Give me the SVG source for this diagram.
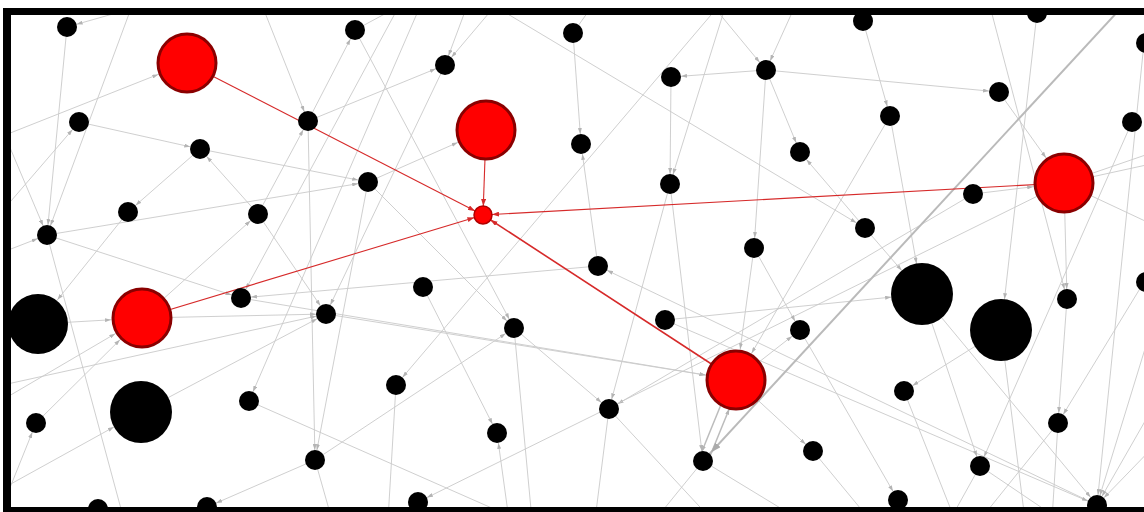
<svg xmlns="http://www.w3.org/2000/svg" width="1144" height="512" viewBox="0 0 1144 512">
<style>
.e{stroke:#c9c9c9;stroke-width:0.9;fill:none}
.s{marker-end:url(#a)}
.b{marker-end:url(#ab)}
.t{stroke:#bababa;stroke-width:2;fill:none;marker-end:url(#at)}
.m{stroke:#bcbcbc;stroke-width:1.5;fill:none}
.r{stroke:#d62a2a;stroke-width:1.1;fill:none;marker-end:url(#ar)}
.n{fill:#000}
.rn{fill:#ff0000;stroke:#8a0000;stroke-width:3}
</style>
<defs>
<marker id="a" viewBox="0 0 6 4" refX="16" refY="2" markerWidth="6" markerHeight="4" markerUnits="userSpaceOnUse" orient="auto"><path d="M0,0L6,2L0,4z" fill="#b4b4b4"/></marker>
<marker id="ab" viewBox="0 0 6 4" refX="37" refY="2" markerWidth="6" markerHeight="4" markerUnits="userSpaceOnUse" orient="auto"><path d="M0,0L6,2L0,4z" fill="#b4b4b4"/></marker>
<marker id="at" viewBox="0 0 10 7" refX="22" refY="3.5" markerWidth="10" markerHeight="7" markerUnits="userSpaceOnUse" orient="auto"><path d="M0,0L10,3.5L0,7z" fill="#aaaaaa"/></marker>
<marker id="ar" viewBox="0 0 7 5" refX="16" refY="2.5" markerWidth="7" markerHeight="5" markerUnits="userSpaceOnUse" orient="auto"><path d="M0,0L7,2.5L0,5z" fill="#d62a2a"/></marker>
<clipPath id="clip"><rect x="11" y="15" width="1133" height="492"/></clipPath>
</defs>
<rect x="0" y="0" width="1144" height="512" fill="#fff"/>
<g clip-path="url(#clip)">
<g id="connectors">
<line class="e s" x1="250" y1="-25" x2="67" y2="27"/>
<line class="e s" x1="67" y1="27" x2="47" y2="235"/>
<line class="e s" x1="136" y1="-5" x2="47" y2="235"/>
<line class="e b" x1="-20" y1="145" x2="187" y2="63"/>
<line class="e s" x1="-20" y1="237" x2="79" y2="122"/>
<line class="e s" x1="0" y1="124" x2="47" y2="235"/>
<line class="e s" x1="-20" y1="261" x2="47" y2="235"/>
<line class="e s" x1="79" y1="122" x2="200" y2="149"/>
<line class="e s" x1="200" y1="149" x2="368" y2="182"/>
<line class="e s" x1="200" y1="149" x2="128" y2="212"/>
<line class="e s" x1="258" y1="214" x2="200" y2="149"/>
<line class="e s" x1="47" y1="235" x2="368" y2="182"/>
<line class="e b" x1="128" y1="212" x2="38" y2="324"/>
<line class="e s" x1="142" y1="318" x2="258" y2="214"/>
<line class="e s" x1="258" y1="214" x2="326" y2="314"/>
<line class="e s" x1="258" y1="214" x2="308" y2="121"/>
<line class="e s" x1="308" y1="121" x2="315" y2="460"/>
<line class="e s" x1="308" y1="121" x2="445" y2="65"/>
<line class="e s" x1="256" y1="-10" x2="308" y2="121"/>
<line class="e s" x1="308" y1="121" x2="355" y2="30"/>
<line class="e" x1="355" y1="30" x2="420" y2="-5"/>
<line class="e s" x1="355" y1="30" x2="514" y2="328"/>
<line class="e b" x1="368" y1="182" x2="486" y2="130"/>
<line class="e s" x1="405" y1="-5" x2="241" y2="298"/>
<line class="e s" x1="425" y1="-5" x2="249" y2="401"/>
<line class="e s" x1="470" y1="-2" x2="445" y2="65"/>
<line class="e s" x1="500" y1="0" x2="445" y2="65"/>
<line class="e s" x1="445" y1="65" x2="326" y2="314"/>
<line class="e s" x1="476" y1="-5" x2="865" y2="228"/>
<line class="e s" x1="573" y1="33" x2="581" y2="144"/>
<line class="e" x1="573" y1="33" x2="600" y2="-5"/>
<line class="e s" x1="598" y1="266" x2="581" y2="144"/>
<line class="e s" x1="728" y1="-5" x2="396" y2="385"/>
<line class="e s" x1="729" y1="-5" x2="670" y2="184"/>
<line class="e s" x1="704" y1="-5" x2="766" y2="70"/>
<line class="e s" x1="671" y1="77" x2="670" y2="184"/>
<line class="e s" x1="766" y1="70" x2="671" y2="77"/>
<line class="e s" x1="766" y1="70" x2="754" y2="248"/>
<line class="e s" x1="800" y1="-5" x2="766" y2="70"/>
<line class="e s" x1="766" y1="70" x2="999" y2="92"/>
<line class="e s" x1="766" y1="70" x2="800" y2="152"/>
<line class="e s" x1="670" y1="184" x2="609" y2="409"/>
<line class="e s" x1="670" y1="184" x2="703" y2="461"/>
<line class="e s" x1="863" y1="21" x2="890" y2="116"/>
<line class="e" x1="850" y1="-5" x2="863" y2="21"/>
<line class="e s" x1="987" y1="-5" x2="1067" y2="299"/>
<line class="e b" x1="1037" y1="13" x2="1001" y2="330"/>
<line class="e b" x1="999" y1="92" x2="1064" y2="183"/>
<line class="e s" x1="1144" y1="43" x2="1097" y2="505"/>
<line class="e s" x1="1132" y1="122" x2="980" y2="466"/>
<line class="e" x1="1064" y1="183" x2="1160" y2="150"/>
<line class="e" x1="1064" y1="183" x2="1160" y2="162"/>
<line class="e" x1="1064" y1="183" x2="1160" y2="228"/>
<line class="e b" x1="973" y1="194" x2="1064" y2="183"/>
<line class="e s" x1="973" y1="194" x2="609" y2="409"/>
<line class="e s" x1="1064" y1="183" x2="418" y2="502"/>
<line class="e s" x1="1064" y1="183" x2="1067" y2="299"/>
<line class="e b" x1="890" y1="116" x2="736" y2="380"/>
<line class="e b" x1="890" y1="116" x2="922" y2="294"/>
<line class="e s" x1="865" y1="228" x2="800" y2="152"/>
<line class="e b" x1="865" y1="228" x2="922" y2="294"/>
<line class="e s" x1="754" y1="248" x2="800" y2="330"/>
<line class="e s" x1="736" y1="380" x2="813" y2="451"/>
<line class="e s" x1="368" y1="182" x2="514" y2="328"/>
<line class="e" x1="514" y1="328" x2="532" y2="520"/>
<line class="e s" x1="514" y1="328" x2="609" y2="409"/>
<line class="e b" x1="241" y1="298" x2="736" y2="380"/>
<line class="e s" x1="598" y1="266" x2="241" y2="298"/>
<line class="e s" x1="423" y1="287" x2="497" y2="433"/>
<line class="e s" x1="509" y1="520" x2="497" y2="433"/>
<line class="e" x1="396" y1="385" x2="388" y2="520"/>
<line class="e s" x1="1097" y1="505" x2="598" y2="266"/>
<line class="e s" x1="665" y1="320" x2="1097" y2="505"/>
<line class="e b" x1="754" y1="248" x2="736" y2="380"/>
<line class="e" x1="703" y1="461" x2="800" y2="520"/>
<line class="e" x1="703" y1="461" x2="655" y2="520"/>
<line class="e" x1="609" y1="409" x2="712" y2="520"/>
<line class="e" x1="609" y1="409" x2="595" y2="520"/>
<line class="e s" x1="800" y1="330" x2="898" y2="500"/>
<line class="e s" x1="922" y1="294" x2="1097" y2="505"/>
<line class="e s" x1="922" y1="294" x2="980" y2="466"/>
<line class="e" x1="1001" y1="330" x2="1025" y2="520"/>
<line class="e s" x1="1067" y1="299" x2="1058" y2="423"/>
<line class="e s" x1="1144" y1="282" x2="1058" y2="423"/>
<line class="e" x1="813" y1="451" x2="870" y2="520"/>
<line class="e" x1="904" y1="391" x2="955" y2="520"/>
<line class="e" x1="980" y1="466" x2="950" y2="520"/>
<line class="e" x1="980" y1="466" x2="1060" y2="520"/>
<line class="e" x1="1058" y1="423" x2="980" y2="520"/>
<line class="e" x1="1058" y1="423" x2="1052" y2="520"/>
<line class="e s" x1="1160" y1="395" x2="1097" y2="505"/>
<line class="e s" x1="1160" y1="300" x2="1097" y2="505"/>
<line class="e s" x1="1160" y1="440" x2="1097" y2="505"/>
<line class="e" x1="249" y1="401" x2="519" y2="520"/>
<line class="e s" x1="736" y1="380" x2="800" y2="330"/>
<line class="e" x1="47" y1="235" x2="124" y2="520"/>
<line class="e s" x1="47" y1="235" x2="241" y2="298"/>
<line class="e b" x1="38" y1="324" x2="142" y2="318"/>
<line class="e s" x1="142" y1="318" x2="326" y2="314"/>
<line class="e b" x1="326" y1="314" x2="736" y2="380"/>
<line class="e s" x1="-20" y1="390" x2="326" y2="314"/>
<line class="e b" x1="-20" y1="413" x2="142" y2="318"/>
<line class="e b" x1="-20" y1="501" x2="141" y2="412"/>
<line class="e b" x1="36" y1="423" x2="142" y2="318"/>
<line class="e s" x1="-3" y1="520" x2="36" y2="423"/>
<line class="e s" x1="141" y1="412" x2="326" y2="314"/>
<line class="e s" x1="315" y1="460" x2="207" y2="507"/>
<line class="e" x1="315" y1="460" x2="332" y2="520"/>
<line class="e s" x1="368" y1="182" x2="315" y2="460"/>
<line class="e s" x1="315" y1="460" x2="514" y2="328"/>
<line class="e b" x1="665" y1="320" x2="922" y2="294"/>
<line class="e s" x1="1001" y1="330" x2="904" y2="391"/>
<line class="m" x1="731" y1="380" x2="698" y2="461" marker-end="url(#a)"/>
<line class="m" x1="708" y1="461" x2="741" y2="380" marker-end="url(#ab)"/>
<line class="t" x1="1133" y1="-5" x2="703" y2="461"/>
<line class="r" x1="187" y1="63" x2="483" y2="215"/>
<line class="r" x1="486" y1="130" x2="483" y2="215"/>
<line class="r" x1="142" y1="318" x2="483" y2="215"/>
<line class="r" x1="1064" y1="183" x2="483" y2="215"/>
<line class="r" style="stroke-width:1.6" x1="736" y1="380" x2="483" y2="215"/>
</g>
<g id="nodes">
<g id="n1"><circle class="n" cx="67" cy="27" r="10"/></g>
<g id="n2"><circle class="n" cx="355" cy="30" r="10"/></g>
<g id="n3"><circle class="n" cx="79" cy="122" r="10"/></g>
<g id="n4"><circle class="n" cx="200" cy="149" r="10"/></g>
<g id="n5"><circle class="n" cx="308" cy="121" r="10"/></g>
<g id="n6"><circle class="n" cx="368" cy="182" r="10"/></g>
<g id="n7"><circle class="n" cx="128" cy="212" r="10"/></g>
<g id="n8"><circle class="n" cx="258" cy="214" r="10"/></g>
<g id="n9"><circle class="n" cx="47" cy="235" r="10"/></g>
<g id="n10"><circle class="n" cx="573" cy="33" r="10"/></g>
<g id="n11"><circle class="n" cx="445" cy="65" r="10"/></g>
<g id="n12"><circle class="n" cx="581" cy="144" r="10"/></g>
<g id="n13"><circle class="n" cx="671" cy="77" r="10"/></g>
<g id="n14"><circle class="n" cx="766" cy="70" r="10"/></g>
<g id="n15"><circle class="n" cx="670" cy="184" r="10"/></g>
<g id="n16"><circle class="n" cx="754" cy="248" r="10"/></g>
<g id="n17"><circle class="n" cx="598" cy="266" r="10"/></g>
<g id="n18"><circle class="n" cx="863" cy="21" r="10"/></g>
<g id="n19"><circle class="n" cx="1037" cy="13" r="10"/></g>
<g id="n20"><circle class="n" cx="1146" cy="43" r="10"/></g>
<g id="n21"><circle class="n" cx="999" cy="92" r="10"/></g>
<g id="n22"><circle class="n" cx="890" cy="116" r="10"/></g>
<g id="n23"><circle class="n" cx="1132" cy="122" r="10"/></g>
<g id="n24"><circle class="n" cx="800" cy="152" r="10"/></g>
<g id="n25"><circle class="n" cx="973" cy="194" r="10"/></g>
<g id="n26"><circle class="n" cx="865" cy="228" r="10"/></g>
<g id="n27"><circle class="n" cx="241" cy="298" r="10"/></g>
<g id="n28"><circle class="n" cx="326" cy="314" r="10"/></g>
<g id="n29"><circle class="n" cx="396" cy="385" r="10"/></g>
<g id="n30"><circle class="n" cx="36" cy="423" r="10"/></g>
<g id="n31"><circle class="n" cx="249" cy="401" r="10"/></g>
<g id="n32"><circle class="n" cx="315" cy="460" r="10"/></g>
<g id="n33"><circle class="n" cx="98" cy="509" r="10"/></g>
<g id="n34"><circle class="n" cx="207" cy="507" r="10"/></g>
<g id="n35"><circle class="n" cx="423" cy="287" r="10"/></g>
<g id="n36"><circle class="n" cx="665" cy="320" r="10"/></g>
<g id="n37"><circle class="n" cx="514" cy="328" r="10"/></g>
<g id="n38"><circle class="n" cx="609" cy="409" r="10"/></g>
<g id="n39"><circle class="n" cx="497" cy="433" r="10"/></g>
<g id="n40"><circle class="n" cx="703" cy="461" r="10"/></g>
<g id="n41"><circle class="n" cx="418" cy="502" r="10"/></g>
<g id="n42"><circle class="n" cx="800" cy="330" r="10"/></g>
<g id="n43"><circle class="n" cx="1067" cy="299" r="10"/></g>
<g id="n44"><circle class="n" cx="1146" cy="282" r="10"/></g>
<g id="n45"><circle class="n" cx="904" cy="391" r="10"/></g>
<g id="n46"><circle class="n" cx="1058" cy="423" r="10"/></g>
<g id="n47"><circle class="n" cx="813" cy="451" r="10"/></g>
<g id="n48"><circle class="n" cx="980" cy="466" r="10"/></g>
<g id="n49"><circle class="n" cx="898" cy="500" r="10"/></g>
<g id="n50"><circle class="n" cx="1097" cy="505" r="10"/></g>
<g id="b1"><circle class="n" cx="38" cy="324" r="30"/></g>
<g id="b2"><circle class="n" cx="141" cy="412" r="31"/></g>
<g id="b3"><circle class="n" cx="922" cy="294" r="31"/></g>
<g id="b4"><circle class="n" cx="1001" cy="330" r="31"/></g>
<g id="r1"><circle class="rn" cx="187" cy="63" r="29"/></g>
<g id="r2"><circle class="rn" cx="486" cy="130" r="29"/></g>
<g id="r3"><circle class="rn" cx="1064" cy="183" r="29"/></g>
<g id="r4"><circle class="rn" cx="142" cy="318" r="29"/></g>
<g id="r5"><circle class="rn" cx="736" cy="380" r="29"/></g>
<g id="s1"><circle cx="483" cy="215" r="9" fill="#ff0000" stroke="#b00000" stroke-width="1.5"/></g>
</g>
</g>
<g id="frame" fill="#000">
<rect x="3" y="8" width="1141" height="7"/>
<rect x="3" y="8" width="8" height="504"/>
<rect x="3" y="507" width="1141" height="5"/>
</g>
</svg>
